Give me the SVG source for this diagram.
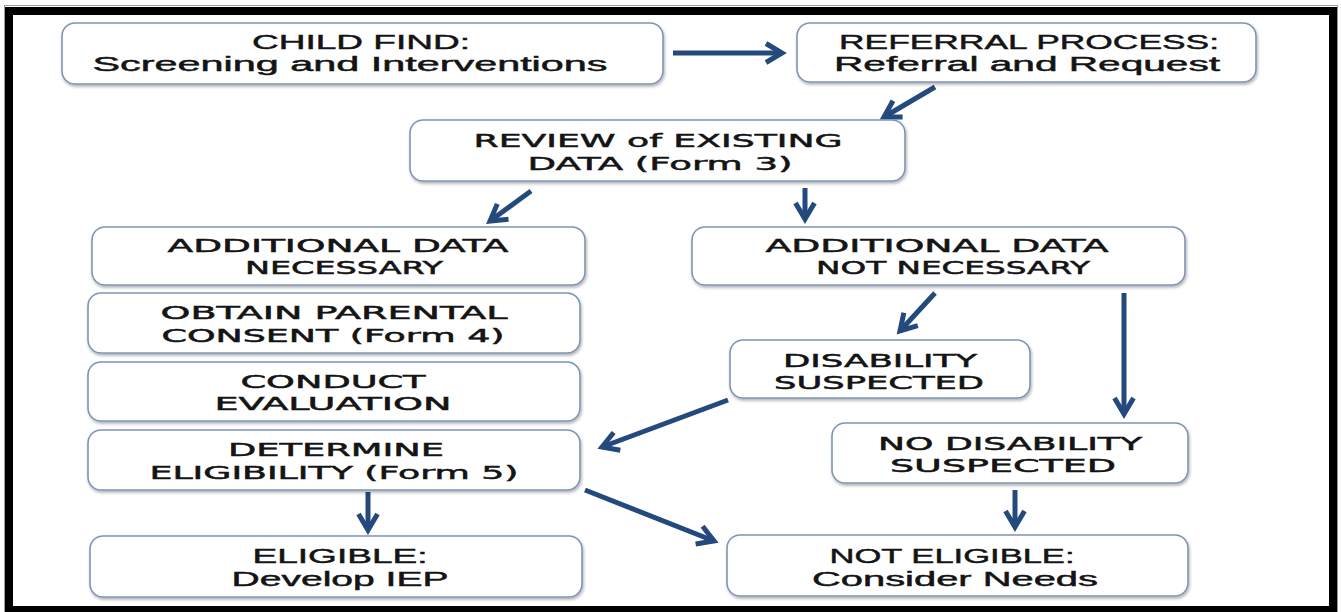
<svg xmlns="http://www.w3.org/2000/svg" width="1341" height="612" viewBox="0 0 1341 612">
<style>
.box{fill:#fff;stroke:#7d95b8;stroke-width:1.6;filter:url(#sh)}
.t{font-family:"Liberation Sans",Arial,sans-serif;font-size:20px;fill:#141414;stroke:#141414;stroke-width:0.45;text-anchor:middle}
.g{font-family:"DejaVu Sans","Liberation Sans",sans-serif;font-size:18.5px;fill:#141414;stroke:#141414;stroke-width:0.5;text-anchor:middle}
.c{fill:none;stroke:#24497c;stroke-width:5;marker-end:url(#ah)}
</style>
<defs>
<filter id="sh" x="-5%" y="-10%" width="110%" height="130%">
<feDropShadow dx="1" dy="2" stdDeviation="1.5" flood-color="#000" flood-opacity="0.3"/>
</filter>
<marker id="ah" viewBox="0 0 24 24" markerWidth="24" markerHeight="24" refX="19" refY="12" orient="auto" markerUnits="userSpaceOnUse">
<path d="M3,2.5 L19,12 L3,21.5" fill="none" stroke="#24497c" stroke-width="5" stroke-linejoin="miter"/>
</marker>
</defs>
<rect x="0" y="0" width="1341" height="612" fill="#fff"/>
<rect x="4.5" y="5.5" width="1333" height="610" fill="none" stroke="#9a9a9a" stroke-width="1"/>
<rect x="9" y="11" width="1324" height="599" fill="none" stroke="#000" stroke-width="8"/>

<g id="connectors">
<line class="c" x1="673" y1="53" x2="782" y2="53"/>
<line class="c" x1="935" y1="87" x2="884" y2="117"/>
<line class="c" x1="531" y1="191" x2="490" y2="221"/>
<line class="c" x1="805" y1="188" x2="805" y2="219"/>
<line class="c" x1="935" y1="293" x2="900" y2="331"/>
<line class="c" x1="1124" y1="293" x2="1124" y2="414"/>
<line class="c" x1="728" y1="400" x2="602" y2="447"/>
<line class="c" x1="368" y1="492" x2="368" y2="530"/>
<line class="c" x1="585" y1="490" x2="714" y2="541"/>
<line class="c" x1="1015" y1="490" x2="1015" y2="527"/>
</g>

<g id="child-find">
<rect class="box" x="62" y="23" width="601" height="61" rx="13"/>
<text class="t" x="361" y="49" textLength="218" lengthAdjust="spacingAndGlyphs">CHILD FIND:</text>
<text class="t" x="350" y="71" textLength="515" lengthAdjust="spacingAndGlyphs">Screening and Interventions</text>
</g>
<g id="referral">
<rect class="box" x="797" y="23" width="459" height="59" rx="13"/>
<text class="t" x="1029" y="49" textLength="380" lengthAdjust="spacingAndGlyphs">REFERRAL PROCESS:</text>
<text class="t" x="1027" y="71" textLength="386" lengthAdjust="spacingAndGlyphs">Referral and Request</text>
</g>
<g id="review">
<rect class="box" x="410" y="120" width="495" height="61" rx="13"/>
<text class="g" x="658" y="147" textLength="369" lengthAdjust="spacingAndGlyphs">REVIEW of EXISTING</text>
<text class="g" x="660" y="170" textLength="265" lengthAdjust="spacingAndGlyphs">DATA (Form 3)</text>
</g>
<g id="add-necessary">
<rect class="box" x="92" y="227" width="493" height="58" rx="13"/>
<text class="g" x="338" y="252" textLength="341" lengthAdjust="spacingAndGlyphs">ADDITIONAL DATA</text>
<text class="g" x="344" y="274" textLength="198" lengthAdjust="spacingAndGlyphs">NECESSARY</text>
</g>
<g id="add-not-necessary">
<rect class="box" x="692" y="227" width="493" height="58" rx="13"/>
<text class="g" x="937" y="252" textLength="343" lengthAdjust="spacingAndGlyphs">ADDITIONAL DATA</text>
<text class="g" x="953" y="274" textLength="274" lengthAdjust="spacingAndGlyphs">NOT NECESSARY</text>
</g>
<g id="consent">
<rect class="box" x="88" y="293" width="492" height="60" rx="13"/>
<text class="g" x="334" y="319" textLength="347" lengthAdjust="spacingAndGlyphs">OBTAIN PARENTAL</text>
<text class="g" x="333" y="342" textLength="343" lengthAdjust="spacingAndGlyphs">CONSENT (Form 4)</text>
</g>
<g id="evaluation">
<rect class="box" x="88" y="362" width="492" height="59" rx="13"/>
<text class="g" x="333" y="388" textLength="185" lengthAdjust="spacingAndGlyphs">CONDUCT</text>
<text class="g" x="333" y="410" textLength="237" lengthAdjust="spacingAndGlyphs">EVALUATION</text>
</g>
<g id="eligibility">
<rect class="box" x="88" y="430" width="492" height="60" rx="13"/>
<text class="g" x="336" y="456" textLength="216" lengthAdjust="spacingAndGlyphs">DETERMINE</text>
<text class="g" x="334" y="479" textLength="369" lengthAdjust="spacingAndGlyphs">ELIGIBILITY (Form 5)</text>
</g>
<g id="disability">
<rect class="box" x="730" y="340" width="300" height="58" rx="13"/>
<text class="g" x="880" y="367" textLength="194" lengthAdjust="spacingAndGlyphs">DISABILITY</text>
<text class="g" x="879" y="389" textLength="210" lengthAdjust="spacingAndGlyphs">SUSPECTED</text>
</g>
<g id="no-disability">
<rect class="box" x="832" y="423" width="356" height="60" rx="13"/>
<text class="g" x="1010" y="450" textLength="264" lengthAdjust="spacingAndGlyphs">NO DISABILITY</text>
<text class="g" x="1003" y="472" textLength="226" lengthAdjust="spacingAndGlyphs">SUSPECTED</text>
</g>
<g id="eligible">
<rect class="box" x="90" y="536" width="492" height="61" rx="13"/>
<text class="t" x="340" y="563" textLength="175" lengthAdjust="spacingAndGlyphs">ELIGIBLE:</text>
<text class="t" x="340" y="586" textLength="217" lengthAdjust="spacingAndGlyphs">Develop IEP</text>
</g>
<g id="not-eligible">
<rect class="box" x="727" y="535" width="461" height="61" rx="13"/>
<text class="t" x="952" y="563" textLength="245" lengthAdjust="spacingAndGlyphs">NOT ELIGIBLE:</text>
<text class="t" x="955" y="586" textLength="286" lengthAdjust="spacingAndGlyphs">Consider Needs</text>
</g>
</svg>
